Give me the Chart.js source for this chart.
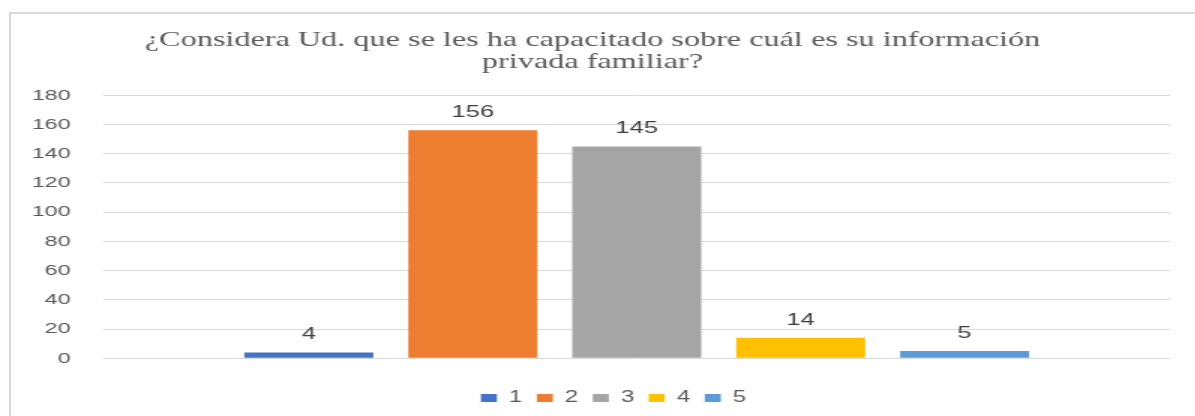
<!DOCTYPE html>
<html>
<head>
<meta charset="utf-8">
<script src="https://cdn.jsdelivr.net/npm/chart.js@4"></script>
<style>
  body { margin: 0; background: #fff; width: 1195px; height: 416px; overflow: hidden; position: relative; }
  #frame { position: absolute; left: 9px; top: 12px; width: 1300px; height: 500px;
           border-left: 2px solid #d9d9d9; border-top: 2px solid #d9d9d9; pointer-events: none; }
  #chart { position: absolute; left: 0; top: 0; transform: scaleX(1.5); transform-origin: 0 0; }
</style>
</head>
<body>
<canvas id="chart" width="797" height="416"></canvas>
<div id="frame"></div>
<script>
"use strict";

const titleLines = [
  "¿Considera Ud. que se les ha capacitado sobre cuál es su información",
  "privada familiar?",
];
const seriesNames = ["1", "2", "3", "4", "5"];
const seriesValues = [4, 156, 145, 14, 5];
const seriesColors = ["#4472C4", "#ED7D31", "#A5A5A5", "#FFC000", "#5B9BD5"];
const yMax = 180;
const yStep = 20;

// value labels above each bar
const valueLabels = {
  id: "valueLabels",
  afterDatasetsDraw(chart) {
    const ctx = chart.ctx;
    ctx.save();
    ctx.font = "17px 'Liberation Sans'";
    ctx.fillStyle = "#404040";
    ctx.textAlign = "center";
    ctx.textBaseline = "middle";
    chart.data.datasets.forEach((ds, i) => {
      chart.getDatasetMeta(i).data.forEach((bar, j) => {
        ctx.fillText(String(ds.data[j]), bar.x, bar.y - 18);
      });
    });
    ctx.restore();
  },
};

// Excel centres title and legend on the whole frame, nudge them a bit right
const nudgeBoxes = {
  id: "nudgeBoxes",
  afterLayout(chart) {
    chart.legend.left += 19;
    chart.legend.right += 19;
    chart.titleBlock.left += 5;
    chart.titleBlock.right += 5;
  },
};

new Chart(document.getElementById("chart"), {
  type: "bar",
  data: {
    labels: [""],
    datasets: seriesNames.map((name, i) => ({
      label: name,
      data: [seriesValues[i]],
      backgroundColor: seriesColors[i],
      categoryPercentage: 0.7686,
      barPercentage: 0.787,
    })),
  },
  plugins: [valueLabels, nudgeBoxes],
  options: {
    responsive: false,
    animation: false,
    layout: { padding: { left: 0, right: 17, top: 0, bottom: 0 } },
    plugins: {
      title: {
        display: true,
        text: titleLines,
        color: "#595959",
        font: { family: "'Liberation Serif'", size: 21.5, weight: "normal", lineHeight: 1.03 },
        padding: { top: 29, bottom: 22 },
      },
      legend: {
        position: "bottom",
        labels: {
          color: "#595959",
          font: { family: "'Liberation Sans'", size: 16 },
          boxWidth: 10.7,
          boxHeight: 8,
          padding: 9.7,
        },
      },
      tooltip: { enabled: false },
    },
    scales: {
      x: {
        grid: { display: false },
        border: { display: false },
        ticks: { display: false },
        afterFit: (s) => { s.height = 22; },
      },
      y: {
        min: 0,
        max: yMax,
        ticks: {
          stepSize: yStep,
          color: "#595959",
          font: { family: "'Liberation Sans'", size: 15.5 },
          padding: 22,
        },
        grid: { color: "#d9d9d9", lineWidth: 1, drawTicks: false },
        border: { display: false },
        afterFit: (s) => { s.width = 69; },
      },
    },
  },
});
</script>
</body>
</html>
